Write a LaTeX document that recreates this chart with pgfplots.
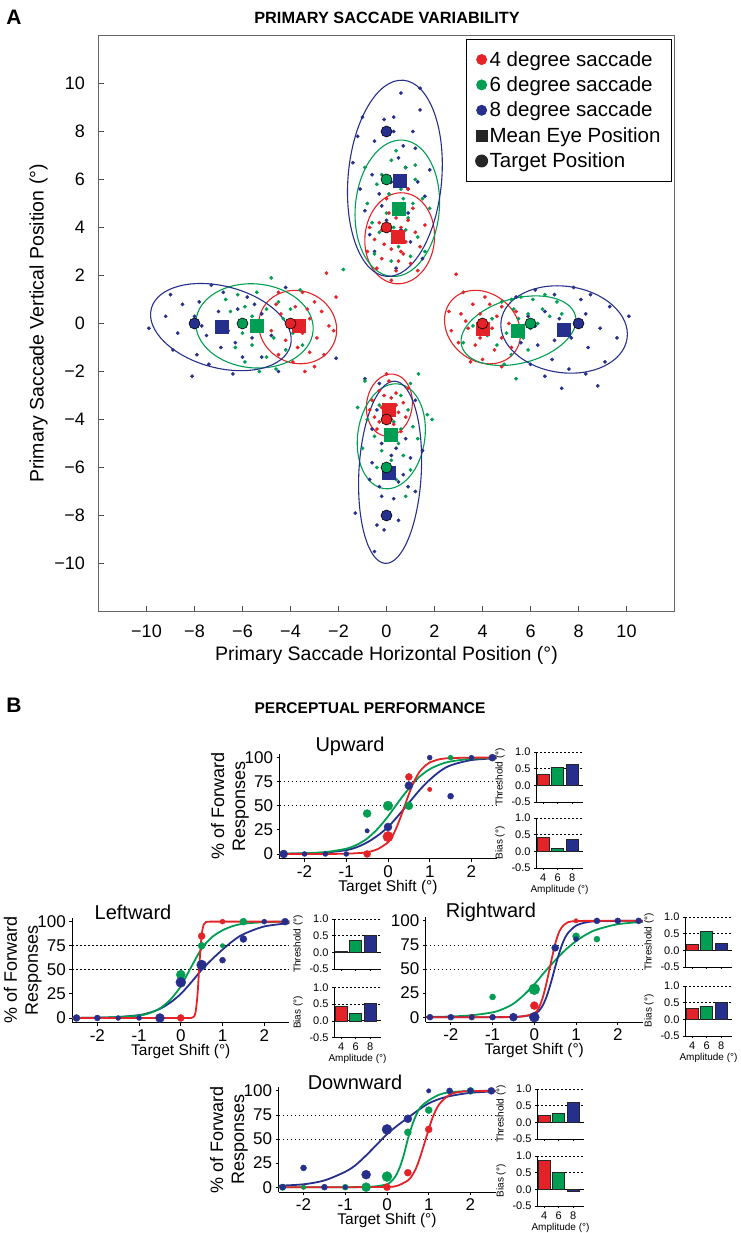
\documentclass[border=0pt]{standalone}
\usepackage{fontspec}
\setmainfont{Liberation Sans}
\usepackage{pgfplots}
\pgfplotsset{compat=1.18}
\definecolor{cR}{RGB}{228,35,40}
\definecolor{cG}{RGB}{0,158,82}
\definecolor{cB}{RGB}{38,48,140}
\newcommand{\fs}[1]{\fontsize{#1}{#1}\selectfont}
\tikzset{
  dotl/.style={black, line width=0.8pt, dash pattern=on 1.5pt off 2.5pt},
  ell/.style={#1, line width=1.1pt},
}
\pgfplotsset{
  psy/.style={scale only axis, width=217pt, height=105pt, xmin=-2.6, xmax=2.6, ymin=-5, ymax=104,
    axis x line*=bottom, axis y line*=left, axis line style={black, line width=0.9pt},
    xtick={-2,-1,0,1,2}, ytick={0,25,50,75,100},
    tick align=outside, major tick length=3pt, tick style={black, line width=0.8pt},
    ticklabel style={font=\fs{17}}, /pgf/number format/assume math mode=true,
    xlabel={Target Shift (°)}, xlabel style={font=\fs{15.5}, yshift=4pt},
    ylabel style={font=\fontsize{18}{21}\selectfont, align=center}, ylabel shift=-11pt,
    clip=false},
  curve/.style={smooth, line width=1.8pt, no marks, #1},
  pts/.style={scatter, only marks, mark=*, scatter/use mapped color={draw=#1, fill=#1},
    visualization depends on={\thisrow{s} \as \perms},
    scatter/@pre marker code/.append style={/tikz/mark size=\perms}},
  inset/.style={scale only axis, width=47pt, height=50pt, xmin=3, xmax=9.5, ymin=-0.5, ymax=1,
    axis x line*=bottom, axis y line*=left, axis line style={black, line width=0.7pt},
    xtick={4,6,8}, ytick={-0.5,0,0.5,1}, yticklabels={-0.5,0.0,0.5,1.0},
    tick align=outside, major tick length=2pt, tick style={black, line width=0.6pt},
    ticklabel style={font=\fs{11}}, ylabel style={font=\fs{10}}, xlabel style={font=\fs{10}, yshift=3pt},
    ybar, bar shift=0pt, bar width=1.65, clip=false},
  thr/.style={inset, xticklabels={}, ylabel={Threshold (°)}},
  bia/.style={inset, xticklabels={4,6,8}, ylabel={Bias (°)}, xlabel={Amplitude (°)}},
  br/.style={fill=#1, draw=black!85, line width=0.6pt},
  dot/.style={only marks, mark=*, mark size=1.7pt, #1, forget plot},
  tgt/.style={only marks, mark=*, mark size=5.5pt, mark options={fill=#1, draw=black, line width=0.6pt}, forget plot},
  mep/.style={only marks, mark=square*, mark size=6.5pt, #1, forget plot},
}
\begin{document}
\begin{tikzpicture}
\useasboundingbox (0,0) rectangle (740pt,1233pt);
% ---------------- Panel A ----------------
\node[font=\bfseries\fs{21}] at (14pt,1216pt) {A};
\node[font=\bfseries\fs{16.3}] at (387pt,1215pt) {PRIMARY SACCADE VARIABILITY};
\begin{axis}[at={(98.5pt,621.5pt)}, anchor=south west, scale only axis,
  width=576pt, height=576pt, xmin=-12, xmax=12, ymin=-12, ymax=12,
  xtick={-10,-8,...,10}, ytick={-10,-8,...,10},
  xticklabels={−10,−8,−6,−4,−2,0,2,4,6,8,10}, yticklabels={−10,−8,−6,−4,−2,0,2,4,6,8,10},
  tick align=inside, xtick pos=bottom, ytick pos=left, major tick length=5pt,
  tick style={black!70, line width=0.7pt},
  ticklabel style={font=\fs{18}},
  xticklabel style={yshift=-10pt},
  yticklabel style={xshift=-10pt},
  xlabel={Primary Saccade Horizontal Position (°)}, ylabel={Primary Saccade Vertical Position (°)},
  label style={font=\fs{19.5}},
  xlabel style={yshift=-2pt},
  axis line style={black!60, line width=0.9pt},
  legend cell align=left,
  legend style={at={(rel axis cs:0.9957,0.994)}, anchor=north east, draw=black, line width=0.9pt,
    font=\fs{20.5}, row sep=5pt, inner xsep=9pt, inner ysep=10pt}]
% up
\addplot[dot=cB] coordinates {(0.6,9.6)(1.4,9.8)(1.4,8.9)(-1.0,8.6)(-0.1,8.5)(0.3,8.6)(0.3,8.0)(-1.2,7.8)(-0.5,7.6)(0.7,7.4)(1.2,7.3)(-1.4,6.7)(-0.6,6.2)(0.8,6.5)(1.3,5.9)(-0.3,5.4)(0.2,5.9)(0.9,5.6)(1.6,5.3)(-0.9,4.7)(0.0,4.3)(0.6,3.9)(1.0,3.4)(-0.5,3.0)(0.4,2.3)(1.5,2.7)(-1.1,5.6)(0.5,6.9)(1.1,8.0)(1.8,6.4)(-0.2,4.9)(0.9,4.6)(-0.7,3.7)};
\addplot[dot=cG] coordinates {(0.2,6.8)(0.8,6.5)(1.2,6.0)(-0.4,5.8)(0.6,5.6)(1.5,5.2)(-0.8,5.0)(0.0,4.6)(0.9,4.4)(0.3,4.0)(1.3,3.6)(-0.3,3.8)(0.5,3.2)(1.0,2.8)(-0.6,4.2)(0.7,5.2)(0.1,5.4)(1.8,4.8)(-0.2,6.2)(0.4,7.2)(1.1,5.0)(0.6,4.7)(-0.9,6.5)(0.2,2.6)(1.6,3.0)(0.3,4.9)(0.8,3.9)(-1.8,2.25)(1.2,6.6)(-0.5,2.9)};
\addplot[dot=cR] coordinates {(0.1,4.6)(0.5,4.9)(-0.3,4.2)(0.9,4.3)(1.2,3.8)(-0.5,3.5)(0.2,3.1)(0.7,2.9)(1.0,2.5)(-0.2,2.7)(0.4,2.2)(1.4,3.2)(-0.7,4.0)(0.6,4.0)(0.3,3.8)(0.8,3.4)(-0.1,3.3)(0.5,2.6)(1.1,4.8)(0.0,5.2)(0.9,5.6)(-0.4,2.3)(1.6,4.1)(0.2,1.8)(0.6,3.0)(1.3,2.2)(-0.8,3.0)(0.4,4.4)(-0.2,3.9)(0.7,3.6)};
% down
\addplot[dot=cB] coordinates {(-0.9,-2.3)(-0.3,-2.5)(1.2,-3.2)(-0.6,-4.4)(0.8,-4.8)(-0.2,-5.0)(0.4,-5.2)(1.0,-5.6)(-0.6,-5.8)(0.1,-6.0)(0.7,-6.3)(-0.7,-6.5)(0.5,-6.6)(1.2,-7.0)(-0.2,-7.2)(0.3,-7.3)(-1.3,-7.9)(-0.4,-8.4)(0.5,-8.2)(-0.1,-8.6)(-0.5,-9.5)(0.9,-6.8)(0.2,-5.5)(-0.3,-6.8)(1.5,-5.3)(-2.1,-1.45)(0.3,-4.5)(-0.4,-3.6)};
\addplot[dot=cG] coordinates {(-0.9,-2.4)(1.0,-2.5)(0.6,-3.0)(-0.3,-3.4)(0.9,-3.6)(-0.8,-4.0)(0.3,-4.1)(1.1,-4.3)(-0.5,-4.7)(0.5,-5.0)(1.3,-4.8)(-0.2,-5.3)(0.7,-5.5)(-1.0,-5.2)(0.2,-5.7)(1.0,-6.1)(-0.4,-6.0)(0.4,-6.5)(1.7,-3.8)(-1.2,-3.5)(0.0,-3.8)(0.6,-4.4)(1.9,-4.0)(1.33,-2.1)(0.8,-7.2)};
\addplot[dot=cR] coordinates {(0.1,-2.4)(-0.3,-2.8)(0.4,-2.9)(-0.6,-3.2)(0.2,-3.1)(0.7,-3.3)(-0.2,-3.5)(0.5,-3.7)(-0.5,-3.9)(0.0,-3.9)(0.8,-3.9)(0.3,-4.2)(-0.4,-4.4)(0.6,-4.5)(0.1,-4.7)(-0.1,-3.0)(0.4,-3.4)(-0.7,-3.6)(0.9,-2.7)(0.2,-4.0)(-0.3,-4.1)(0.0,-2.1)};
% right
\addplot[dot=cB] coordinates {(5.4,1.1)(6.2,1.4)(7.0,1.2)(7.8,1.5)(8.5,1.2)(9.3,0.7)(5.9,0.3)(6.6,0.5)(7.2,0.2)(8.3,0.4)(8.9,-0.2)(9.6,-0.6)(5.6,-0.8)(6.3,-0.9)(7.0,-0.7)(7.7,-0.6)(8.4,-1.0)(9.1,-1.6)(6.0,-1.7)(6.9,-1.5)(7.6,-1.9)(8.3,-2.1)(7.3,-2.7)(8.8,-2.6)(6.6,-2.2)(10.1,0.3)(6.2,-0.1)(7.9,0.0)(8.1,1.0)};
\addplot[dot=cG] coordinates {(3.2,-0.8)(3.6,-0.1)(4.4,0.2)(4.8,0.9)(5.2,1.0)(5.6,1.1)(6.1,1.0)(6.6,1.2)(7.1,0.9)(5.0,-0.4)(5.5,0.2)(5.9,0.4)(6.3,0.0)(4.6,-0.9)(5.2,-1.3)(5.7,-0.6)(6.5,0.6)(4.9,-1.7)(5.9,-1.1)(6.8,0.3)(4.2,-0.5)(5.3,0.6)(5.4,-2.3)(7.3,0.4)(6.0,-0.2)};
\addplot[dot=cR] coordinates {(3.2,1.3)(3.6,0.8)(4.3,0.8)(4.8,0.7)(3.1,0.4)(3.9,0.4)(4.6,0.3)(5.1,0.0)(3.4,-0.2)(4.2,-0.3)(4.8,-0.6)(3.0,-0.8)(3.7,-0.9)(4.5,-1.1)(5.2,-1.0)(4.0,-1.5)(3.5,-1.6)(4.8,-1.8)(3.3,0.1)(4.4,-0.2)(3.9,-0.6)(4.1,1.1)(2.7,-0.3)(5.4,0.5)(2.6,0.5)(2.9,2.05)};
% left
\addplot[dot=cB] coordinates {(-9.0,1.2)(-7.3,1.6)(-8.5,0.8)(-7.8,0.9)(-6.8,1.3)(-5.8,1.1)(-4.2,1.5)(-9.2,0.3)(-8.0,0.3)(-7.0,0.5)(-6.2,0.6)(-5.2,0.4)(-8.7,-0.4)(-7.5,-0.5)(-6.6,-0.3)(-5.6,-0.6)(-4.8,-0.5)(-8.9,-1.1)(-7.9,-1.3)(-6.9,-1.0)(-6.0,-1.4)(-7.4,-1.7)(-6.4,-2.1)(-5.2,-1.4)(-8.1,-2.2)(-4.5,-2.0)(-9.9,-0.2)(-5.5,0.8)(-7.7,-0.1)(-6.3,-0.8)};
\addplot[dot=cG] coordinates {(-3.6,1.4)(-4.8,1.9)(-5.4,1.3)(-6.2,1.2)(-4.5,0.9)(-5.0,0.6)(-5.9,0.7)(-6.5,0.5)(-4.3,0.2)(-5.2,-0.3)(-6.0,-0.4)(-6.9,-0.1)(-4.7,-0.6)(-5.6,-0.9)(-6.3,-1.0)(-4.2,-1.1)(-5.0,-1.4)(-5.9,-1.6)(-4.6,-1.9)(-5.3,-2.0)(-3.9,-0.4)(-6.7,1.0)(-3.5,-0.9)(-4.0,0.6)(-5.6,0.3)};
\addplot[dot=cR] coordinates {(-2.5,2.1)(-2.1,1.1)(-3.5,1.3)(-4.5,1.3)(-3.0,0.9)(-3.8,0.7)(-4.4,0.4)(-2.7,0.5)(-3.2,0.2)(-4.0,-0.1)(-2.4,-0.1)(-4.8,-0.3)(-3.5,-0.4)(-2.9,-0.6)(-4.2,-0.7)(-3.7,-1.0)(-3.2,-1.2)(-4.5,-1.3)(-2.6,-1.3)(-3.9,-1.6)(-3.4,-2.0)(-2.2,-0.3)(-4.6,0.8)(-3.0,-1.8)(-3.3,0.6)};
% ellipses
\draw[ell=cR, rotate around={-5:(axis cs:0.55,3.55)}] (axis cs:0.55,3.55) ellipse [x radius=1.45, y radius=1.9];
\draw[ell=cG, rotate around={-5:(axis cs:0.45,4.8)}] (axis cs:0.45,4.8) ellipse [x radius=1.75, y radius=2.85];
\draw[ell=cB, rotate around={-5:(axis cs:0.35,6.05)}] (axis cs:0.35,6.05) ellipse [x radius=1.95, y radius=4.1];
\draw[ell=cR, rotate around={-8:(axis cs:0.12,-3.4)}] (axis cs:0.12,-3.4) ellipse [x radius=0.95, y radius=1.3];
\draw[ell=cG, rotate around={-8:(axis cs:0.2,-4.7)}] (axis cs:0.2,-4.7) ellipse [x radius=1.4, y radius=2.2];
\draw[ell=cB, rotate around={-3:(axis cs:0.15,-6.2)}] (axis cs:0.15,-6.2) ellipse [x radius=1.3, y radius=3.8];
\draw[ell=cR, rotate around={-40:(axis cs:4.0,-0.15)}] (axis cs:4.0,-0.15) ellipse [x radius=1.7, y radius=1.4];
\draw[ell=cG, rotate around={15:(axis cs:5.5,-0.3)}] (axis cs:5.5,-0.3) ellipse [x radius=2.45, y radius=1.35];
\draw[ell=cB, rotate around={-8:(axis cs:7.4,-0.25)}] (axis cs:7.4,-0.25) ellipse [x radius=2.65, y radius=1.8];
\draw[ell=cR, rotate around={-25:(axis cs:-3.7,-0.15)}] (axis cs:-3.7,-0.15) ellipse [x radius=1.65, y radius=1.5];
\draw[ell=cG, rotate around={-5:(axis cs:-5.5,-0.1)}] (axis cs:-5.5,-0.1) ellipse [x radius=2.45, y radius=1.75];
\draw[ell=cB, rotate around={-15:(axis cs:-6.9,-0.15)}] (axis cs:-6.9,-0.15) ellipse [x radius=3.0, y radius=1.7];
% mean eye positions
\addplot[mep=cR] coordinates {(0.45,3.6)(0.08,-3.6)(4.0,-0.2)(-3.65,-0.1)};
\addplot[mep=cG] coordinates {(0.5,4.8)(0.17,-4.65)(5.45,-0.3)(-5.4,-0.1)};
\addplot[mep=cB] coordinates {(0.55,5.95)(0.1,-6.2)(7.4,-0.25)(-6.85,-0.15)};
% targets
\addplot[tgt=cR] coordinates {(0,4)(0,-4)(4,0)(-4,0)};
\addplot[tgt=cG] coordinates {(0,6)(0,-6)(6,0)(-6,0)};
\addplot[tgt=cB] coordinates {(0,8)(0,-8)(8,0)(-8,0)};
% legend
\addlegendimage{only marks, mark=*, mark size=5pt, cR}
\addlegendentry{4 degree saccade}
\addlegendimage{only marks, mark=*, mark size=5pt, cG}
\addlegendentry{6 degree saccade}
\addlegendimage{only marks, mark=*, mark size=5pt, cB}
\addlegendentry{8 degree saccade}
\addlegendimage{only marks, mark=square*, mark size=5.5pt, black!85}
\addlegendentry{Mean Eye Position}
\addlegendimage{only marks, mark=*, mark size=6pt, black!85}
\addlegendentry{Target Position}
\end{axis}
% ---------------- Panel B ----------------
\node[font=\bfseries\fs{21}] at (14pt,528pt) {B};
\node[font=\bfseries\fs{15.5}] at (370pt,525pt) {PERCEPTUAL PERFORMANCE};
% Upward
\node[font=\fs{20}] at (350pt,487pt) {Upward};
\begin{axis}[psy, at={(279.5pt,374.2pt)}, anchor=south west, ylabel={\% of Forward\\Responses}]
\draw[dotl] (axis cs:-2.6,50) -- (axis cs:2.6,50);
\draw[dotl] (axis cs:-2.6,75) -- (axis cs:2.6,75);
\addplot[curve=cB] coordinates {(-2.6,0.2)(-2,0.6)(-1.5,1.5)(-1,4)(-0.75,7)(-0.5,12)(-0.25,19)(0,28)(0.25,40)(0.5,53)(0.75,66)(1,77)(1.25,86)(1.5,92)(2,97.5)(2.6,99.3)};
\addplot[curve=cG] coordinates {(-2.6,0.2)(-2,0.8)(-1.5,2)(-1,5.5)(-0.75,9.5)(-0.5,16)(-0.25,26)(0,39)(0.25,54)(0.5,68)(0.75,80)(1,88)(1.25,93)(1.5,96)(2,98.8)(2.6,99.7)};
\addplot[curve=cR] coordinates {(-2.6,0)(-2,0)(-1.5,0)(-1,0.3)(-0.75,0.8)(-0.5,1.8)(-0.25,5)(0,12)(0.1,18)(0.2,27)(0.3,38)(0.4,50)(0.5,62)(0.6,73)(0.75,85)(0.9,92)(1,95)(1.25,98.5)(1.5,99.5)(2,100)(2.6,100)};
\addplot[pts=cR] table {
x y s
-2.5 0 3
-0.5 0 3.5
0 18 5.2
0.5 80 3.5
1 67 2.2
2.5 100 3
};
\addplot[pts=cG] table {
x y s
-0.5 42 4
0 50 4.8
0.5 50 4
1.5 100 2.5
2.5 100 3
};
\addplot[pts=cB] table {
x y s
-2.5 0 4
-2 0 2.5
-1.5 0 2.5
-1 0 2.5
-0.5 24 2.2
0 28 4
0.5 71 4
1 100 2.5
1.5 60 3
2 100 2.5
2.5 100 3.5
};
\end{axis}
\begin{axis}[thr, at={(536pt,431pt)}, anchor=south west]
\draw[dotl] (axis cs:3,0.5) -- (axis cs:9.5,0.5);
\draw[dotl] (axis cs:3,1) -- (axis cs:9.5,1);
\draw[black, line width=0.7pt] (axis cs:3,0) -- (axis cs:9.5,0);
\addplot[br=cR] coordinates {(4,0.33)};
\addplot[br=cG] coordinates {(6,0.55)};
\addplot[br=cB] coordinates {(8,0.62)};
\end{axis}
\begin{axis}[bia, at={(536pt,365pt)}, anchor=south west]
\draw[dotl] (axis cs:3,0.5) -- (axis cs:9.5,0.5);
\draw[dotl] (axis cs:3,1) -- (axis cs:9.5,1);
\draw[black, line width=0.7pt] (axis cs:3,0) -- (axis cs:9.5,0);
\addplot[br=cR] coordinates {(4,0.42)};
\addplot[br=cG] coordinates {(6,0.08)};
\addplot[br=cB] coordinates {(8,0.37)};
\end{axis}
% Leftward
\node[font=\fs{20}] at (133pt,321pt) {Leftward};
\begin{axis}[psy, at={(72.3pt,210.2pt)}, anchor=south west, ylabel={\% of Forward\\Responses}]
\draw[dotl] (axis cs:-2.6,50) -- (axis cs:2.6,50);
\draw[dotl] (axis cs:-2.6,75) -- (axis cs:2.6,75);
\addplot[curve=cB] coordinates {(-2.6,0)(-2,0.3)(-1.5,1)(-1,3)(-0.75,5.5)(-0.5,9.5)(-0.25,16)(0,25)(0.25,37)(0.5,50)(0.75,61)(1,71)(1.25,80)(1.5,87)(2,95)(2.6,98.5)};
\addplot[curve=cG] coordinates {(-2.6,0)(-2,0.3)(-1.5,1)(-1,2.5)(-0.75,5)(-0.5,10)(-0.25,19)(0,33)(0.25,53)(0.5,72)(0.75,84)(1,91)(1.25,95.5)(1.5,97.8)(2,99.5)(2.6,100)};
\addplot[curve=cR] coordinates {(-2.6,0)(-1,0)(0,0)(0.25,0)(0.3,1)(0.35,5)(0.4,24)(0.45,58)(0.5,86)(0.55,97)(0.6,99.5)(0.7,100)(1,100)(1.5,100)(2,100)(2.6,100)};
\addplot[pts=cR] table {
x y s
0 0 3.5
0.5 85 3.5
1 100 2.5
};
\addplot[pts=cG] table {
x y s
0 45 4.5
0.5 75 3.5
1 75 2.2
1.5 100 3.5
};
\addplot[pts=cB] table {
x y s
-2.5 0 3.5
-2 0 3
-1.5 0 2.5
-1 0 2.5
-0.5 0 4.5
0 37 5
0.5 55 5
1 60 3
1.5 82 3.5
2 100 2.5
2.5 100 3.5
};
\end{axis}
\begin{axis}[thr, at={(334pt,264pt)}, anchor=south west]
\draw[dotl] (axis cs:3,0.5) -- (axis cs:9.5,0.5);
\draw[dotl] (axis cs:3,1) -- (axis cs:9.5,1);
\draw[black, line width=0.7pt] (axis cs:3,0) -- (axis cs:9.5,0);
\addplot[br=cR] coordinates {(4,0.02)};
\addplot[br=cG] coordinates {(6,0.37)};
\addplot[br=cB] coordinates {(8,0.52)};
\end{axis}
\begin{axis}[bia, at={(334pt,195.5pt)}, anchor=south west]
\draw[dotl] (axis cs:3,0.5) -- (axis cs:9.5,0.5);
\draw[dotl] (axis cs:3,1) -- (axis cs:9.5,1);
\draw[black, line width=0.7pt] (axis cs:3,0) -- (axis cs:9.5,0);
\addplot[br=cR] coordinates {(4,0.45)};
\addplot[br=cG] coordinates {(6,0.23)};
\addplot[br=cB] coordinates {(8,0.53)};
\end{axis}
% Rightward
\node[font=\fs{20}] at (491pt,321pt) {Rightward};
\begin{axis}[psy, at={(425.8pt,211pt)}, anchor=south west]
\draw[dotl] (axis cs:-2.6,50) -- (axis cs:2.6,50);
\draw[dotl] (axis cs:-2.6,75) -- (axis cs:2.6,75);
\addplot[curve=cG] coordinates {(-2.6,0.2)(-2,0.7)(-1.5,2)(-1,5)(-0.75,8.5)(-0.5,14)(-0.25,23)(0,34)(0.25,47)(0.5,59)(0.75,70)(1,79)(1.25,86)(1.5,91)(2,96.5)(2.6,99)};
\addplot[curve=cB] coordinates {(-2.6,0)(-1,0)(-0.5,0.3)(-0.25,1)(0,3)(0.1,6)(0.2,12)(0.3,22)(0.4,36)(0.5,52)(0.6,67)(0.7,79)(0.8,87)(1,95)(1.25,98.5)(1.5,99.6)(2,100)(2.6,100)};
\addplot[curve=cR] coordinates {(-2.6,0)(-1,0)(-0.5,0.2)(-0.25,1)(0,4)(0.1,9)(0.2,20)(0.3,37)(0.4,57)(0.5,76)(0.6,89)(0.7,95.5)(0.8,98.5)(1,99.8)(1.5,100)(2,100)(2.6,100)};
\addplot[pts=cR] table {
x y s
-1.5 0 3
0 12 4
1 100 2.2
};
\addplot[pts=cG] table {
x y s
-1.5 0 2.5
-1 21 3
0 29 5.5
1 84 3.5
1.5 81 3
};
\addplot[pts=cB] table {
x y s
-2.5 0 3
-2 0 3
-1.5 0 2.5
-1 0 3
-0.5 0 4
0 0 5
0.5 72 3.5
1 81 2.5
1.5 100 3
2 100 3
2.5 100 3
};
\end{axis}
\begin{axis}[thr, at={(685pt,266pt)}, anchor=south west]
\draw[dotl] (axis cs:3,0.5) -- (axis cs:9.5,0.5);
\draw[dotl] (axis cs:3,1) -- (axis cs:9.5,1);
\draw[black, line width=0.7pt] (axis cs:3,0) -- (axis cs:9.5,0);
\addplot[br=cR] coordinates {(4,0.17)};
\addplot[br=cG] coordinates {(6,0.57)};
\addplot[br=cB] coordinates {(8,0.22)};
\end{axis}
\begin{axis}[bia, at={(685pt,197pt)}, anchor=south west]
\draw[dotl] (axis cs:3,0.5) -- (axis cs:9.5,0.5);
\draw[dotl] (axis cs:3,1) -- (axis cs:9.5,1);
\draw[black, line width=0.7pt] (axis cs:3,0) -- (axis cs:9.5,0);
\addplot[br=cR] coordinates {(4,0.33)};
\addplot[br=cG] coordinates {(6,0.38)};
\addplot[br=cB] coordinates {(8,0.52)};
\end{axis}
% Downward
\node[font=\fs{20}] at (355pt,151pt) {Downward};
\begin{axis}[psy, at={(278.5pt,41pt)}, anchor=south west, ylabel={\% of Forward\\Responses}]
\draw[dotl] (axis cs:-2.6,50) -- (axis cs:2.6,50);
\draw[dotl] (axis cs:-2.6,75) -- (axis cs:2.6,75);
\addplot[curve=cB] coordinates {(-2.6,1.5)(-2,3)(-1.5,7)(-1,16)(-0.75,23)(-0.5,33)(-0.25,44)(0,55)(0.25,64)(0.5,72)(0.75,80)(1,87)(1.25,91.5)(1.5,94.5)(2,98)(2.6,99.5)};
\addplot[curve=cG] coordinates {(-2.6,0)(-1,0)(-0.5,0.3)(-0.25,1)(0,3)(0.1,6)(0.2,11)(0.3,20)(0.4,33)(0.5,50)(0.6,64)(0.7,75)(0.8,83)(1,90)(1.25,96)(1.5,98.5)(2,99.8)(2.6,100)};
\addplot[curve=cR] coordinates {(-2.6,0)(-1,0)(0,0.3)(0.25,1.5)(0.5,7)(0.6,12)(0.7,20)(0.8,32)(0.9,46)(1,60)(1.1,73)(1.25,86)(1.5,96)(1.75,99)(2,99.8)(2.6,100)};
\addplot[pts=cR] table {
x y s
-2 0 2.2
0 0 3.5
0.5 15 3.5
1 60 3.5
};
\addplot[pts=cG] table {
x y s
-2.5 0 3.2
-2 0 2.2
-1 0 3
-0.5 0 4.5
0 11 5
0.5 57 3.5
1 80 3.5
2 100 3.5
};
\addplot[pts=cB] table {
x y s
-2.5 0 3
-2 20 3
-1.5 0 3
-1 0 2.2
-0.5 13 4.5
0 60 5
0.5 71 4
1 100 2.2
1.5 100 3
2 100 3
2.5 100 3.5
};
\end{axis}
\begin{axis}[thr, at={(537pt,94pt)}, anchor=south west]
\draw[dotl] (axis cs:3,0.5) -- (axis cs:9.5,0.5);
\draw[dotl] (axis cs:3,1) -- (axis cs:9.5,1);
\draw[black, line width=0.7pt] (axis cs:3,0) -- (axis cs:9.5,0);
\addplot[br=cR] coordinates {(4,0.2)};
\addplot[br=cG] coordinates {(6,0.27)};
\addplot[br=cB] coordinates {(8,0.6)};
\end{axis}
\begin{axis}[bia, at={(537pt,27pt)}, anchor=south west]
\draw[dotl] (axis cs:3,0.5) -- (axis cs:9.5,0.5);
\draw[dotl] (axis cs:3,1) -- (axis cs:9.5,1);
\draw[black, line width=0.7pt] (axis cs:3,0) -- (axis cs:9.5,0);
\addplot[br=cR] coordinates {(4,0.88)};
\addplot[br=cG] coordinates {(6,0.52)};
\addplot[br=cB] coordinates {(8,-0.05)};
\end{axis}
\end{tikzpicture}
\end{document}
